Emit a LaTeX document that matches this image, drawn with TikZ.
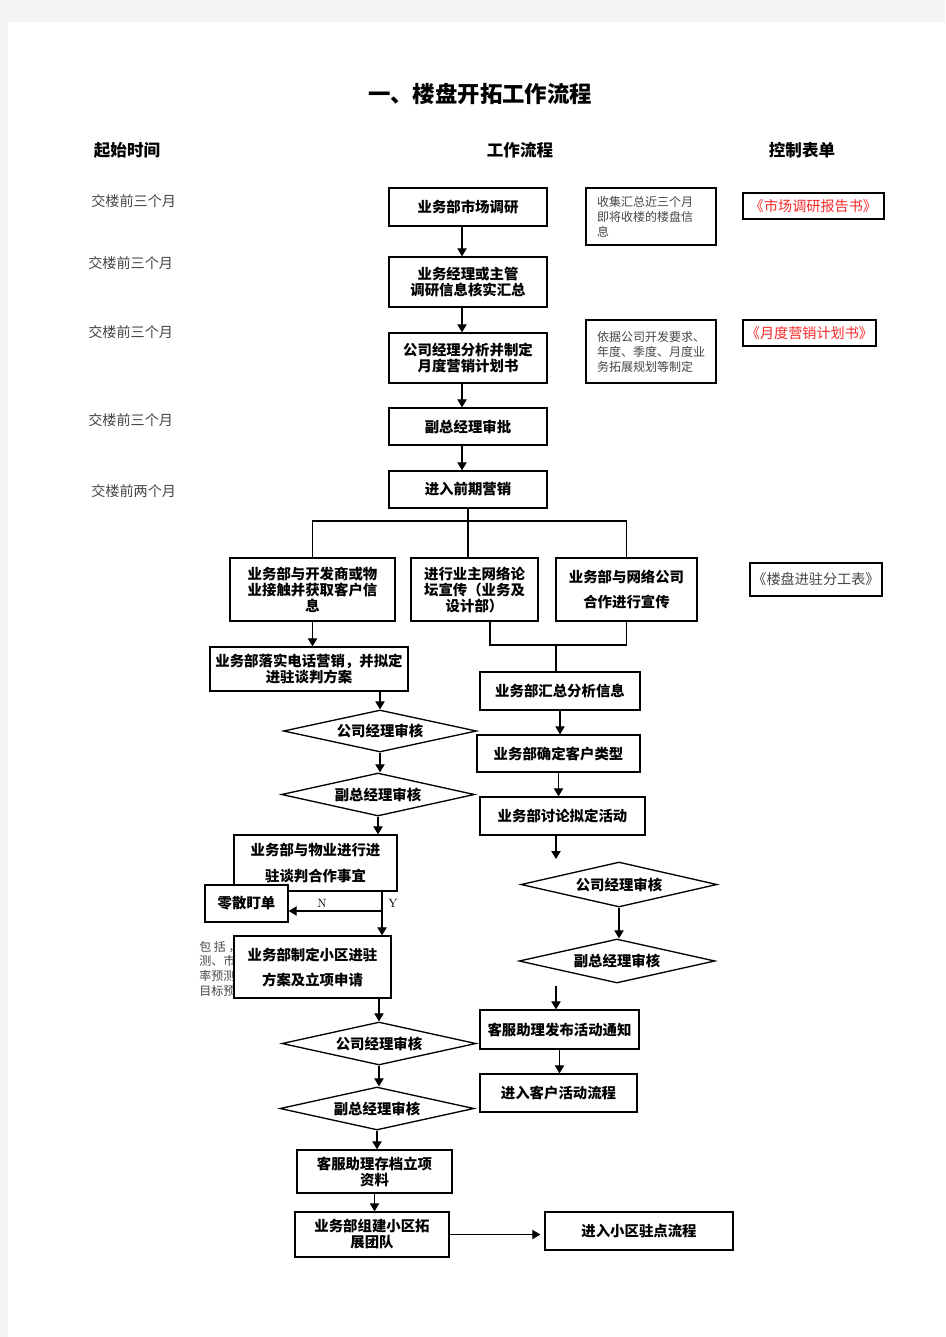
\documentclass[tikz,border=0pt]{standalone}
\usepackage{fontspec}
\usepackage{tikz}
\usetikzlibrary{shapes.geometric,arrows.meta}
\newfontfamily\cjk{Noto Sans CJK SC}
\definecolor{pagebg}{RGB}{243,243,243}
\definecolor{notegray}{RGB}{70,70,70}
\definecolor{formred}{RGB}{250,40,40}

\begin{document}
\begin{tikzpicture}[x=0.75pt,y=-0.75pt,
  flow/.style={rectangle,draw,line width=1pt,fill=white,align=center,inner sep=0pt,font=\cjk\bfseries\fontsize{10.8}{12}\selectfont},
  check/.style={diamond,draw,line width=1pt,fill=white,inner sep=0pt,aspect=4.5,font=\cjk\bfseries\fontsize{10.8}{12}\selectfont},
  note/.style={rectangle,draw,line width=1pt,align=left,inner sep=0pt,text=notegray,font=\cjk\fontsize{9}{11.25}\selectfont},
  form/.style={rectangle,draw,line width=1pt,inner sep=0pt,font=\cjk\fontsize{10.6}{12}\selectfont},
  when/.style={anchor=west,inner sep=0pt,text=notegray,font=\cjk\fontsize{10.6}{12}\selectfont},
  head/.style={inner sep=0pt,font=\cjk\bfseries\fontsize{12.4}{14}\selectfont},
  yn/.style={inner sep=0pt,font=\fontsize{9}{10}\selectfont},
  link/.style={->,>={Triangle[length=6pt,width=7pt]},line width=0.8pt},
  joint/.style={line width=0.8pt}]
\fill[pagebg] (0,0) rectangle (945,1337);
\fill[white] (8,22) rectangle (945,1337);

\node[head,font=\cjk\bfseries\fontsize{16.8}{18}\selectfont] (title) at (480,94) {一、楼盘开拓工作流程};
\node[head] (h1) at (127,150) {起始时间};
\node[head] (h2) at (520,150) {工作流程};
\node[head] (h3) at (802,150) {控制表单};

\node[when] (t1) at (91,201) {交楼前三个月};
\node[when] (t2) at (88,263) {交楼前三个月};
\node[when] (t3) at (88,332) {交楼前三个月};
\node[when] (t4) at (88,420) {交楼前三个月};
\node[when] (t5) at (91,491) {交楼前两个月};

\node[flow,minimum width=118.5pt,minimum height=28.5pt] (b1) at (468,207) {业务部市场调研};
\node[flow,minimum width=118.5pt,minimum height=37.5pt] (b2) at (468,282) {业务经理或主管\\调研信息核实汇总};
\node[flow,minimum width=118.5pt,minimum height=37.5pt] (b3) at (468,358) {公司经理分析并制定\\月度营销计划书};
\node[flow,minimum width=118.5pt,minimum height=27.75pt] (b4) at (468,426.5) {副总经理审批};
\node[flow,minimum width=118.5pt,minimum height=27.75pt] (b5) at (468,489.5) {进入前期营销};

\node[note,minimum width=97.5pt,minimum height=42.75pt] (n1) at (651,216.5) {收集汇总近三个月\\即将收楼的楼盘信\\息\hphantom{收集汇总近三个月}};
\node[note,minimum width=97.5pt,minimum height=47.25pt] (n2) at (651,351.5) {依据公司开发要求、\\年度、季度、月度业\\务拓展规划等制定};
\node[form,text=formred,minimum width=105.75pt,minimum height=19.5pt] (f1) at (813.5,206) {《市场调研报告书》};
\node[form,text=formred,minimum width=99.75pt,minimum height=19.5pt] (f2) at (809.5,333) {《月度营销计划书》};
\node[form,text=notegray,minimum width=99pt,minimum height=24.75pt] (f3) at (816,579.5) {《楼盘进驻分工表》};

\node[flow,minimum width=123.75pt,minimum height=47.25pt] (c1) at (312.5,589.5) {业务部与开发商或物\\业接触并获取客户信\\息};
\node[flow,minimum width=95.25pt,minimum height=47.25pt] (c2) at (474.5,589.5) {进行业主网络论\\坛宣传（业务及\\设计部）};
\node[flow,minimum width=105.75pt,minimum height=47.25pt,font=\cjk\bfseries\fontsize{10.8}{18.75}\selectfont] (c3) at (626.5,589.5) {业务部与网络公司\\合作进行宣传};

\node[flow,minimum width=148.5pt,minimum height=33pt] (e1) at (309,669) {业务部落实电话营销，并拟定\\进驻谈判方案};
\node[check,minimum width=144.75pt,minimum height=31.5pt] (k1) at (380,731) {公司经理审核};
\node[check,minimum width=144.75pt,minimum height=32.25pt] (k2) at (378,794.5) {副总经理审核};
\node[flow,minimum width=122.25pt,minimum height=42pt,font=\cjk\bfseries\fontsize{10.8}{19.5}\selectfont] (e2) at (315.5,863) {业务部与物业进行进\\驻谈判合作事宜};
\node[flow,minimum width=62.25pt,minimum height=27.75pt] (ling) at (246.5,903.5) {零散盯单};
\node[anchor=north west,inner sep=0pt,align=left,text=notegray,font=\cjk\fontsize{9}{10.9}\selectfont] (incl) at (199,941) {包 括 ，\\测、市\\率预测\\目标预};
\node[flow,minimum width=117.75pt,minimum height=46.5pt,font=\cjk\bfseries\fontsize{10.8}{18.75}\selectfont] (e3) at (312.5,967) {业务部制定小区进驻\\方案及立项申请};
\node[check,minimum width=145.5pt,minimum height=32.25pt] (k3) at (379,1043.5) {公司经理审核};
\node[check,minimum width=145.5pt,minimum height=32.25pt] (k4) at (377,1108.5) {副总经理审核};
\node[flow,minimum width=116.25pt,minimum height=32.25pt] (e4) at (374.5,1171.5) {客服助理存档立项\\资料};
\node[flow,minimum width=115.5pt,minimum height=33.75pt] (e5) at (372,1234.5) {业务部组建小区拓\\展团队};
\node[flow,minimum width=141pt,minimum height=28.5pt] (e6) at (639,1231) {进入小区驻点流程};

\node[flow,minimum width=120pt,minimum height=28.5pt] (d1) at (560,691) {业务部汇总分析信息};
\node[flow,minimum width=122.25pt,minimum height=27.75pt] (d2) at (558.5,753.5) {业务部确定客户类型};
\node[flow,minimum width=123.75pt,minimum height=28.5pt] (d3) at (562.5,816) {业务部讨论拟定活动};
\node[check,minimum width=147pt,minimum height=33.75pt] (d4) at (619,884.5) {公司经理审核};
\node[check,minimum width=147pt,minimum height=33pt] (d5) at (617,961) {副总经理审核};
\node[flow,minimum width=119.25pt,minimum height=29.25pt] (d6) at (559.5,1029.5) {客服助理发布活动通知};
\node[flow,minimum width=117.75pt,minimum height=28.5pt] (d7) at (558.5,1093) {进入客户活动流程};

\draw[link] ([xshift=-4.5pt]b1.south) -- ([xshift=-4.5pt]b2.north);
\draw[link] ([xshift=-4.5pt]b2.south) -- ([xshift=-4.5pt]b3.north);
\draw[link] ([xshift=-4.5pt]b3.south) -- ([xshift=-4.5pt]b4.north);
\draw[link] ([xshift=-4.5pt]b4.south) -- ([xshift=-4.5pt]b5.north);

\coordinate (split) at (468,521);
\draw[joint] (b5.south) -- (b5.south |- c2.north);
\draw[joint] (c1.north) |- (split) -| (c3.north);
\coordinate (merge) at (556,645);
\draw[joint] ([xshift=11.6pt]c2.south) |- (merge) -| (c3.south);
\draw[joint] (merge) -- (merge |- d1.north);

\draw[link] (c1.south) -- (c1.south |- e1.north);
\draw[link] (k1 |- e1.south) -- (k1.north);
\draw[link] (k1.south) -- (k1.south |- k2.north);
\draw[link] (k2.south) -- (k2.south |- e2.north);
\coordinate (yes) at (382,911);
\draw[joint] (yes |- e2.south) -- (yes);
\draw[link] (yes) -- (ling.east |- yes);
\draw[link] (yes) -- (yes |- e3.north);
\node[yn] (nlab) at (322,903) {N};
\node[yn] (ylab) at (393,903) {Y};
\draw[link] (k3 |- e3.south) -- (k3.north);
\draw[link] (k3.south) -- (k3.south |- k4.north);
\draw[link] (k4.south) -- (k4.south |- e4.north);
\draw[link] (e4.south) -- (e4.south |- e5.north);
\draw[link] (e5.east) -- ([xshift=-3pt]e6.west |- e5.east);

\draw[link] (d1.south) -- (d1.south |- d2.north);
\draw[link] (d2.south) -- (d2.south |- d3.north);
\coordinate (d3end) at (556,859);
\draw[link] (d3end |- d3.south) -- (d3end);
\draw[link] (d4.south) -- (d4.south |- d5.north);
\coordinate (d6start) at (556,986);
\draw[link] (d6start) -- (d6start |- d6.north);
\draw[link] (d6.south) -- (d6.south |- d7.north);
\end{tikzpicture}
\end{document}
